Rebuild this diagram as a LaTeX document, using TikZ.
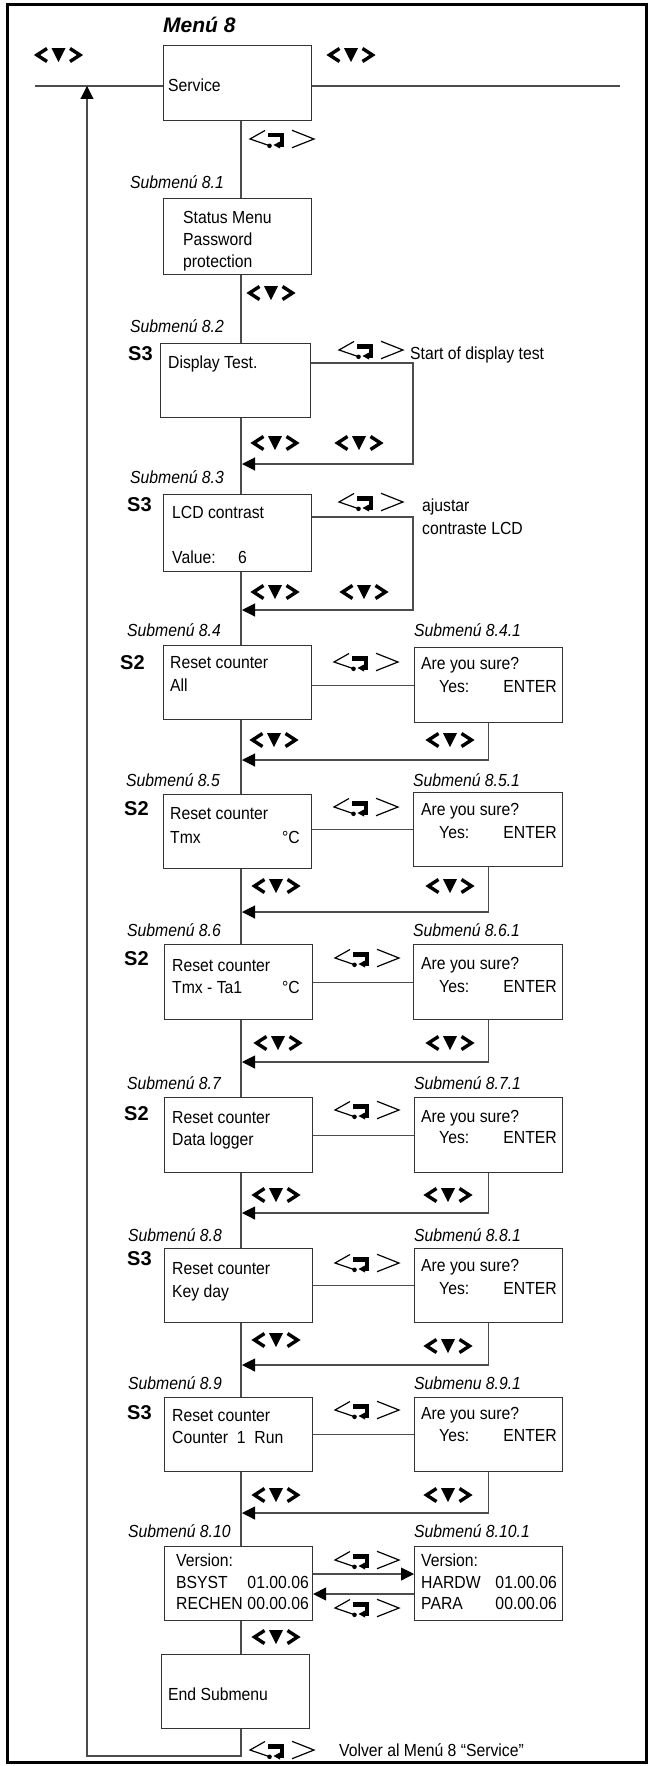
\documentclass[tikz,border=0pt]{standalone}
\usepackage{fontspec}
\usetikzlibrary{arrows.meta,calc}
\newfontfamily\bodyfam[FakeStretch=0.9]{Liberation Sans}
\newfontfamily\lblfam{Liberation Sans}
\newcommand\bodyfont{\bodyfam\fontsize{17.5}{21}\selectfont}
\newcommand\lblfont{\lblfam\fontsize{20}{24}\selectfont\bfseries}
\newcommand\menufont{\lblfam\fontsize{21}{25}\selectfont\bfseries\itshape}

\tikzset{
  box/.style={draw=black!80, line width=1.1pt, inner sep=0pt, anchor=north west,
              minimum width=148pt, minimum height=75pt},
  conn/.style={draw=black!70, line width=1.1pt},
  arr/.style={conn, -{Triangle[length=13pt,width=13pt,color=black]}},
  txt/.style={anchor=base west, inner sep=0pt, font=\bodyfont},
  txtr/.style={anchor=base east, inner sep=0pt, font=\bodyfont},
  sub/.style={anchor=base west, inner sep=0pt, font=\bodyfont\itshape},
  lvl/.style={anchor=base west, inner sep=0pt, font=\lblfont},
  % navigation key <v>
  nav/.pic={
    \draw[line width=3.4pt, miter limit=10] (-11.5,-6.5) -- (-21.5,0) -- (-11.5,6.5);
    \fill (-7,-6.8) -- (7,-6.8) -- (0,7) -- cycle;
    \draw[line width=3.4pt, miter limit=10] (11.5,-6.5) -- (21.5,0) -- (11.5,6.5);
  },
  % enter key <enter>
  ret/.pic={
    \draw[line width=1.2pt] (15,-8.5) -- (0,0) -- (19,6.5);
    \fill (19.5,6.8) circle (2.3pt);
    \fill (18,-6) rectangle (34,-1.5);
    \fill (29.5,-6) rectangle (34,8);
    \fill (23.5,6) -- (30,2.5) -- (30,9.5) -- cycle;
    \draw[line width=1.2pt] (42,-8.7) -- (64,0) -- (42,8.7);
  },
}

\begin{document}
\begin{tikzpicture}[x=1pt, y=-1pt]
\path[use as bounding box] (0,0) rectangle (649,1766);
\draw[line width=3pt] (7,5) rectangle (646,1762);

% main column and loop corners
\coordinate (mx) at (241,0);
\coordinate (tl) at (35,86);
\coordinate (tr) at (620,86);
\coordinate (rl) at (87,1756);

% ---------------- Menu 8 ----------------
\node[anchor=base west, inner sep=0pt, font=\menufont] (m8) at (163,33) {Menú 8};
\pic at (58.5,55) {nav};
\pic at (351,55) {nav};
\node[box, minimum height=75pt] (svc) at (163,45) {};
\node[txt] (tsvc) at (168,92) {Service};
\draw[conn] (tl) -- (tl -| svc.west);
\draw[conn] (tr -| svc.east) -- (tr);
\pic at (250,139) {ret};

% ---------------- 8.1 ----------------
\node[sub] (s81) at (130,188) {Submenú 8.1};
\node[box, minimum height=76pt] (b81) at (163,198) {};
\node[txt] (t81a) at (183,223) {Status Menu};
\node[txt] (t81b) at (183,245) {Password};
\node[txt] (t81c) at (183,267) {protection};
\draw[conn] (svc.south -| mx) -- (b81.north -| mx);
\pic at (271,293) {nav};

% ---------------- 8.2 ----------------
\node[sub] (s82) at (130,332) {Submenú 8.2};
\node[lvl] (l82) at (128,360) {S3};
\node[box, minimum width=150pt, minimum height=74pt] (b82) at (160,343) {};
\node[txt] (t82) at (168,368) {Display Test.};
\draw[conn] (b81.south -| mx) -- (b82.north -| mx);
\pic at (339,350) {ret};
\node[txt] (d82) at (410,359) {Start of display test};
\coordinate (c82) at (413,464);
\draw[arr] ($(b82.north east)+(0,20)$) -| (c82) -- ($(c82 -| mx)+(1,0)$);
\pic at (275,443) {nav};
\pic at (359,443) {nav};

% ---------------- 8.3 ----------------
\node[sub] (s83) at (130,483) {Submenú 8.3};
\node[lvl] (l83) at (127,511) {S3};
\node[box, minimum height=77pt] (b83) at (163,494) {};
\node[txt] (t83a) at (172,518) {LCD contrast};
\node[txt] (t83b) at (172,563) {Value:};
\node[txt] (t83c) at (238,563) {6};
\draw[conn] (b82.south -| mx) -- (b83.north -| mx);
\pic at (339,502) {ret};
\node[txt] (d83a) at (422,511) {ajustar};
\node[txt] (d83b) at (422,534) {contraste LCD};
\coordinate (c83) at (413,610);
\draw[arr] ($(b83.north east)+(0,23)$) -| (c83) -- ($(c83 -| mx)+(1,0)$);
\pic at (275,592) {nav};
\pic at (364,592) {nav};

% ---------------- 8.4 ----------------
\node[sub] (s84) at (127,636) {Submenú 8.4};
\node[sub] (s841) at (414,636) {Submenú 8.4.1};
\node[lvl] (l84) at (120,669) {S2};
\node[box, minimum height=74pt] (b84) at (163,645) {};
\node[txt] (t84a) at (170,668) {Reset counter};
\node[txt] (t84b) at (170,691) {All};
\node[box] (b841) at (414,647) {};
\node[txt] (q84a) at (421,669) {Are you sure?};
\node[txt] (q84b) at (439,692) {Yes:};
\node[txtr] (q84c) at (557,692) {ENTER};
\draw[conn] (b83.south -| mx) -- (b84.north -| mx);
\draw[conn] (b841.west) -- (b841.west -| b84.east);
\pic at (334,662) {ret};
\coordinate (c84) at (241,760);
\draw[arr] (b841.south) |- ($(c84)+(1,0)$);
\pic at (274,740) {nav};
\pic at (450,740) {nav};

% ---------------- 8.5 ----------------
\node[sub] (s85) at (126,786) {Submenú 8.5};
\node[sub] (s851) at (413,786) {Submenú 8.5.1};
\node[lvl] (l85) at (124,815) {S2};
\node[box, minimum height=74pt] (b85) at (163,794) {};
\node[txt] (t85a) at (170,819) {Reset counter};
\node[txt] (t85b) at (170,843) {Tmx};
\node[txtr] (t85c) at (300,843) {°C};
\node[box, minimum width=149pt, minimum height=74pt] (b851) at (413,792) {};
\node[txt] (q85a) at (421,815) {Are you sure?};
\node[txt] (q85b) at (439,838) {Yes:};
\node[txtr] (q85c) at (557,838) {ENTER};
\draw[conn] (b84.south -| mx) -- (b85.north -| mx);
\draw[conn] (b851.west) -- (b851.west -| b85.east);
\pic at (334,807) {ret};
\coordinate (c85) at (241,912);
\draw[arr] (b851.south) |- ($(c85)+(1,0)$);
\pic at (276,886) {nav};
\pic at (450,886) {nav};

% ---------------- 8.6 ----------------
\node[sub] (s86) at (127,936) {Submenú 8.6};
\node[sub] (s861) at (413,936) {Submenú 8.6.1};
\node[lvl] (l86) at (124,965) {S2};
\node[box] (b86) at (164,944) {};
\node[txt] (t86a) at (172,971) {Reset counter};
\node[txt] (t86b) at (172,993) {Tmx - Ta1};
\node[txtr] (t86c) at (300,993) {°C};
\node[box, minimum width=149pt] (b861) at (413,944) {};
\node[txt] (q86a) at (421,969) {Are you sure?};
\node[txt] (q86b) at (439,992) {Yes:};
\node[txtr] (q86c) at (557,992) {ENTER};
\draw[conn] (b85.south -| mx) -- (b86.north -| mx);
\draw[conn] (b861.west) -- (b861.west -| b86.east);
\pic at (335,958) {ret};
\coordinate (c86) at (241,1062);
\draw[arr] (b861.south) |- ($(c86)+(1,0)$);
\pic at (278,1043) {nav};
\pic at (450,1043) {nav};

% ---------------- 8.7 ----------------
\node[sub] (s87) at (127,1089) {Submenú 8.7};
\node[sub] (s871) at (414,1089) {Submenú 8.7.1};
\node[lvl] (l87) at (124,1120) {S2};
\node[box] (b87) at (164,1097) {};
\node[txt] (t87a) at (172,1123) {Reset counter};
\node[txt] (t87b) at (172,1145) {Data logger};
\node[box] (b871) at (414,1097) {};
\node[txt] (q87a) at (421,1122) {Are you sure?};
\node[txt] (q87b) at (439,1143) {Yes:};
\node[txtr] (q87c) at (557,1143) {ENTER};
\draw[conn] (b86.south -| mx) -- (b87.north -| mx);
\draw[conn] (b871.west) -- (b871.west -| b87.east);
\pic at (335,1110) {ret};
\coordinate (c87) at (241,1213);
\draw[arr] (b871.south) |- ($(c87)+(1,0)$);
\pic at (276,1195) {nav};
\pic at (448,1195) {nav};

% ---------------- 8.8 ----------------
\node[sub] (s88) at (128,1241) {Submenú 8.8};
\node[sub] (s881) at (414,1241) {Submenú 8.8.1};
\node[lvl] (l88) at (127,1265) {S3};
\node[box, minimum height=74pt] (b88) at (164,1248) {};
\node[txt] (t88a) at (172,1274) {Reset counter};
\node[txt] (t88b) at (172,1297) {Key day};
\node[box, minimum height=74pt] (b881) at (414,1248) {};
\node[txt] (q88a) at (421,1271) {Are you sure?};
\node[txt] (q88b) at (439,1294) {Yes:};
\node[txtr] (q88c) at (557,1294) {ENTER};
\draw[conn] (b87.south -| mx) -- (b88.north -| mx);
\draw[conn] (b881.west) -- (b881.west -| b88.east);
\pic at (335,1263) {ret};
\coordinate (c88) at (241,1365);
\draw[arr] (b881.south) |- ($(c88)+(1,0)$);
\pic at (276,1340) {nav};
\pic at (448,1346) {nav};

% ---------------- 8.9 ----------------
\node[sub] (s89) at (128,1389) {Submenú 8.9};
\node[sub] (s891) at (414,1389) {Submenu 8.9.1};
\node[lvl] (l89) at (127,1419) {S3};
\node[box, minimum height=74pt] (b89) at (164,1397) {};
\node[txt] (t89a) at (172,1421) {Reset counter};
\node[txt] (t89b) at (172,1443) {Counter\ \ 1\ \ Run};
\node[box, minimum height=74pt] (b891) at (414,1397) {};
\node[txt] (q89a) at (421,1419) {Are you sure?};
\node[txt] (q89b) at (439,1441) {Yes:};
\node[txtr] (q89c) at (557,1441) {ENTER};
\draw[conn] (b88.south -| mx) -- (b89.north -| mx);
\draw[conn] (b891.west) -- (b891.west -| b89.east);
\pic at (335,1410) {ret};
\coordinate (c89) at (241,1513);
\draw[arr] (b891.south) |- ($(c89)+(1,0)$);
\pic at (276,1495) {nav};
\pic at (448,1495) {nav};

% ---------------- 8.10 ----------------
\node[sub] (s810) at (128,1537) {Submenú 8.10};
\node[sub] (s8101) at (414,1537) {Submenú 8.10.1};
\node[box, minimum height=74pt] (b810) at (164,1546) {};
\node[txt] (t810a) at (176,1566) {Version:};
\node[txt] (t810b) at (176,1588) {BSYST};
\node[txtr] (t810c) at (309,1588) {01.00.06};
\node[txt] (t810d) at (176,1609) {RECHEN};
\node[txtr] (t810e) at (309,1609) {00.00.06};
\node[box, minimum height=74pt] (b8101) at (414,1546) {};
\node[txt] (v810a) at (421,1566) {Version:};
\node[txt] (v810b) at (421,1588) {HARDW};
\node[txtr] (v810c) at (557,1588) {01.00.06};
\node[txt] (v810d) at (421,1609) {PARA};
\node[txtr] (v810e) at (557,1609) {00.00.06};
\draw[conn] (b89.south -| mx) -- (b810.north -| mx);
\draw[arr] ($(b810.north east)+(0,28)$) -- ($(b8101.north west)+(0,28)$);
\draw[arr] ($(b8101.north west)+(0,48)$) -- ($(b810.north east)+(0,48)$);
\pic at (335,1560) {ret};
\pic at (335,1608) {ret};
\pic at (276,1637) {nav};

% ---------------- end ----------------
\node[box, minimum height=74pt] (bend) at (161,1654) {};
\node[txt] (tend) at (168,1700) {End Submenu};
\draw[conn] (b810.south -| mx) -- (bend.north -| mx);
\draw[arr] (bend.south -| mx) |- (rl) -- (rl |- tl);
\pic at (250,1750) {ret};
\node[txt] (tback) at (339,1756) {Volver al Menú 8 “Service”};
\end{tikzpicture}
\end{document}
